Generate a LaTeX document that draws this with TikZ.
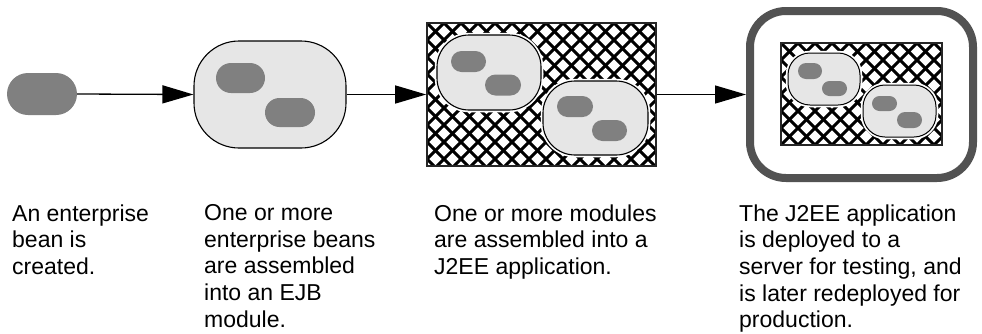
\documentclass[tikz,border=0pt]{standalone}
\usepackage{fontspec}
\setmainfont{Liberation Sans}
\usetikzlibrary{arrows.meta,calc}
\definecolor{beangray}{HTML}{808080}
\definecolor{modfill}{HTML}{E6E6E6}
\definecolor{srvgray}{HTML}{525252}
\tikzset{
  bean/.style={rectangle, fill=beangray, inner sep=0pt, minimum width=#1},
  modbox/.style={rectangle, fill=modfill, draw=black, line width=1.1pt, inner sep=0pt},
  halo/.style={preaction={draw=white, line width=4.5pt}},
  hatchbox/.style={rectangle, draw=black!85, line width=1.6pt, fill=white, inner sep=0pt,
    path picture={
      \foreach \c in {-153,-136,...,391} {
        \draw[black, line width=3pt] ($(path picture bounding box.north west)+(\c,0)$) -- ++(300,300);
        \draw[black, line width=3pt] ($(path picture bounding box.north west)+(\c,0)$) -- ++(-300,300);
      }
    }},
  flow/.style={draw=black, line width=1.3pt, -{Triangle[length=31pt,width=18pt]}},
  caption/.style={anchor=north west, inner sep=0pt, align=left, font=\fontsize{23}{26.6}\selectfont}
}
\begin{document}
\begin{tikzpicture}[x=1pt, y=-1pt]
\useasboundingbox (0,0) rectangle (982,333);
\fill[white] (0,0) rectangle (982,333);

% step 1: single bean
\node[bean=70pt, minimum height=42pt, rounded corners=21pt] (b0) at (42,94) {};

% step 2: EJB module
\node[modbox, minimum width=152pt, minimum height=107pt, rounded corners=45pt] (ejb) at (270,94.5) {};
\node[bean=49pt, minimum height=30pt, rounded corners=15pt] (ejba) at (240.5,78) {};
\node[bean=50pt, minimum height=29pt, rounded corners=14.5pt] (ejbb) at (290,112.5) {};

% step 3: J2EE application
\node[hatchbox, minimum width=229pt, minimum height=143pt] (app) at (541.5,94.5) {};
\node[modbox, halo, minimum width=104pt, minimum height=75pt, rounded corners=32pt] (am1) at (489,72.5) {};
\node[modbox, halo, minimum width=105pt, minimum height=74pt, rounded corners=32pt] (am2) at (595.5,118) {};
\node[bean=35pt, minimum height=21pt, rounded corners=10.5pt] (am1a) at (468.5,61.5) {};
\node[bean=36pt, minimum height=21pt, rounded corners=10.5pt] (am1b) at (503,85) {};
\node[bean=36pt, minimum height=21pt, rounded corners=10.5pt] (am2a) at (575,106.5) {};
\node[bean=35pt, minimum height=21pt, rounded corners=10.5pt] (am2b) at (609.5,130.5) {};

% step 4: server
\node[rectangle, draw=srvgray, line width=8pt, inner sep=0pt, minimum width=223pt, minimum height=167pt, rounded corners=36pt] (srv) at (861.5,94.5) {};
\node[hatchbox, line width=1.4pt, minimum width=161pt, minimum height=102pt] (sapp) at (861.5,94) {};
\node[modbox, halo, line width=1pt, minimum width=72pt, minimum height=52pt, rounded corners=22pt] (sm1) at (824,79) {};
\node[modbox, halo, line width=1pt, minimum width=73pt, minimum height=52pt, rounded corners=22pt] (sm2) at (899.5,111) {};
\node[bean=24pt, minimum height=16pt, rounded corners=8pt] (sm1a) at (810,71) {};
\node[bean=25pt, minimum height=15pt, rounded corners=7.5pt] (sm1b) at (834.5,88.5) {};
\node[bean=25pt, minimum height=15pt, rounded corners=7.5pt] (sm2a) at (884.5,103.5) {};
\node[bean=25pt, minimum height=16pt, rounded corners=8pt] (sm2b) at (909.5,120) {};

% connectors
\draw[flow] (b0.east) -- (ejb.west);
\draw[flow] (ejb.east) -- (app.west);
\draw[flow] (app.east) -- (srv.west);

% captions
\node[caption] (t1) at (12,204.5) {An enterprise\\bean is\\created.};
\node[caption] (t2) at (204,204.5) {One or more\\enterprise beans\\are assembled\\into an EJB\\module.};
\node[caption] (t3) at (434,204.5) {One or more modules\\are assembled into a\\J2EE application.};
\node[caption] (t4) at (739,204.5) {The J2EE application\\is deployed to a\\server for testing, and\\is later redeployed for\\production.};
\end{tikzpicture}
\end{document}
